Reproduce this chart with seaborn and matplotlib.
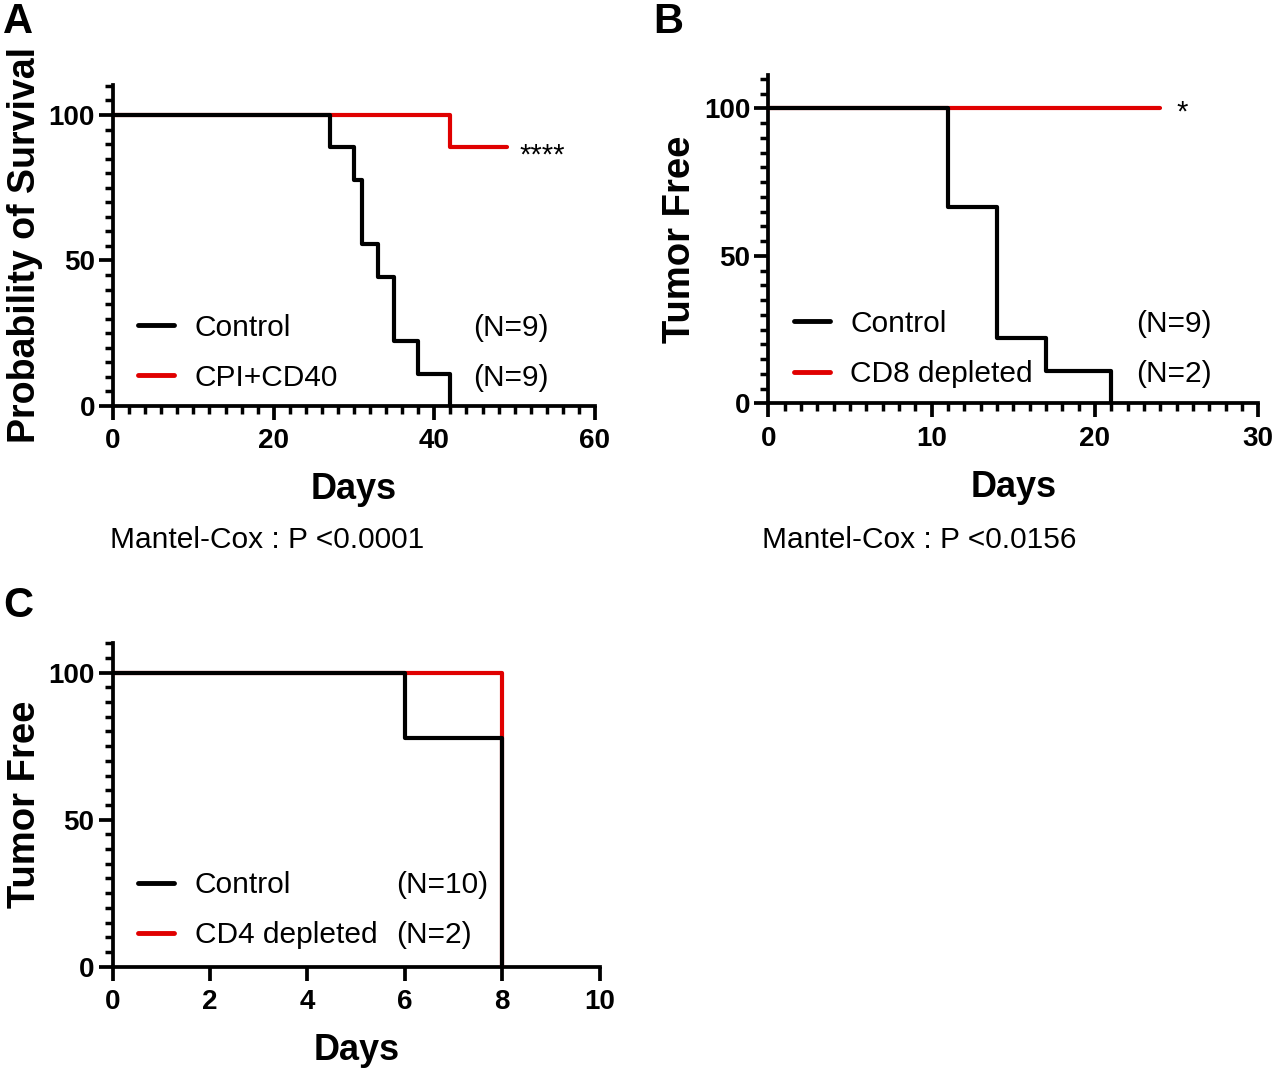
import matplotlib
matplotlib.use('Agg')
import matplotlib.pyplot as plt
import seaborn as sns
import pandas as pd
from matplotlib.ticker import MultipleLocator

# Panel A - survival
a_ctrl_days = [0, 27, 30, 31, 33, 35, 38, 42]
a_ctrl_surv = [100, 88.9, 77.8, 55.6, 44.4, 22.2, 11.1, 0]
a_trt_days = [0, 42, 49]
a_trt_surv = [100, 88.9, 88.9]

# Panel B - tumor free, CD8 depletion
b_ctrl_days = [0, 11, 14, 17, 21]
b_ctrl_surv = [100, 66.7, 22.2, 11.1, 0]
b_trt_days = [0, 24]
b_trt_surv = [100, 100]

# Panel C - tumor free, CD4 depletion
c_ctrl_days = [0, 6, 8]
c_ctrl_surv = [100, 77.8, 0]
c_trt_days = [0, 8]
c_trt_surv = [100, 0]

RED = '#e00000'
BLACK = '#000000'
FONT = ['Liberation Sans', 'DejaVu Sans']

sns.set_style('ticks')
plt.rcParams['font.family'] = FONT
plt.rcParams.update({'text.color': 'black', 'axes.labelcolor': 'black',
                     'xtick.color': 'black', 'ytick.color': 'black',
                     'axes.edgecolor': 'black'})


def km_panel(ax, ctrl, trt, names, xmax, xmajor, xminor, ytop, ylabel, ylabel_size, leg_anchor):
    df_t = pd.DataFrame({'Days': trt[0], 'Pct': trt[1]})
    df_c = pd.DataFrame({'Days': ctrl[0], 'Pct': ctrl[1]})
    sns.lineplot(data=df_t, x='Days', y='Pct', ax=ax, color=RED, linewidth=3.0,
                 drawstyle='steps-post', sort=False, estimator=None, label=names[1], zorder=3)
    sns.lineplot(data=df_c, x='Days', y='Pct', ax=ax, color=BLACK, linewidth=3.0,
                 drawstyle='steps-post', sort=False, estimator=None, label=names[0], zorder=4)

    ax.set_xlim(0, xmax)
    ax.set_ylim(0, ytop)
    ax.xaxis.set_major_locator(MultipleLocator(xmajor))
    if xminor:
        ax.xaxis.set_minor_locator(MultipleLocator(xminor))
    ax.yaxis.set_major_locator(MultipleLocator(50))
    ax.yaxis.set_minor_locator(MultipleLocator(5))
    for s in ['top', 'right']:
        ax.spines[s].set_visible(False)
    for s in ['left', 'bottom']:
        ax.spines[s].set_linewidth(2.7)
        ax.spines[s].set_capstyle('projecting')
    ax.tick_params(which='major', length=10, width=2.7, labelsize=20, pad=3)
    ax.tick_params(which='minor', length=5.5, width=2.5)
    ax.tick_params(axis='x', which='major', pad=6)
    for lab in ax.get_xticklabels() + ax.get_yticklabels():
        lab.set_fontweight('bold')
    ax.set_xlabel('Days', fontsize=26, fontweight='bold', labelpad=13)
    ax.set_ylabel(ylabel, fontsize=ylabel_size, fontweight='bold', labelpad=4)

    h, l = ax.get_legend_handles_labels()
    order = [l.index(names[0]), l.index(names[1])]
    leg = ax.legend([h[i] for i in order], [l[i] for i in order], loc='upper left',
                    bbox_to_anchor=leg_anchor, frameon=False, fontsize=21.5,
                    handlelength=1.2, handletextpad=0.7, labelspacing=0.75,
                    borderpad=0, borderaxespad=0)
    for line in leg.get_lines():
        line.set_linewidth(3.5)
    return leg


def add_counts(fig, ax, leg, ns, n_x):
    # put the group sizes on the same rows as the legend entries
    fig.canvas.draw()
    for txt, n in zip(leg.get_texts(), ns):
        bb = txt.get_window_extent()
        yc = (bb.y0 + bb.y1) / 2
        _, y_data = ax.transData.inverted().transform((0, yc))
        ax.text(n_x, y_data, n, fontsize=21.5, va='center', ha='left')


fig = plt.figure(figsize=(12.76, 10.76), dpi=100)
axA = fig.add_axes([0.0886, 0.6227, 0.3777, 0.2983])
axB = fig.add_axes([0.6021, 0.6252, 0.3840, 0.3051])
axC = fig.add_axes([0.0883, 0.1016, 0.3817, 0.3011])

legA = km_panel(axA, (a_ctrl_days, a_ctrl_surv), (a_trt_days, a_trt_surv),
                ['Control', 'CPI+CD40'], 60, 20, 2, 110.3,
                'Probability of Survival', 27, (0.052, 0.288))
legB = km_panel(axB, (b_ctrl_days, b_ctrl_surv), (b_trt_days, b_trt_surv),
                ['Control', 'CD8 depleted'], 30, 10, 1, 111.3,
                'Tumor Free', 27.5, (0.052, 0.285))
legC = km_panel(axC, (c_ctrl_days, c_ctrl_surv), (c_trt_days, c_trt_surv),
                ['Control', 'CD4 depleted'], 10, 2, None, 110.2,
                'Tumor Free', 27.5, (0.052, 0.295))

add_counts(fig, axA, legA, ['(N=9)', '(N=9)'], 44.8)
add_counts(fig, axB, legB, ['(N=9)', '(N=2)'], 22.5)
add_counts(fig, axC, legC, ['(N=10)', '(N=2)'], 5.83)

# significance stars
axA.annotate('****', xy=(a_trt_days[-1], a_trt_surv[-1]), xytext=(9, -12),
             textcoords='offset points', fontsize=21, va='baseline', ha='left')
axB.annotate('*', xy=(b_trt_days[-1], b_trt_surv[-1]), xytext=(12, -9),
             textcoords='offset points', fontsize=21, va='baseline', ha='left')

fig.text(110 / 1276, 1 - 540 / 1076, 'Mantel-Cox : P <0.0001', fontsize=21.5, va='center', ha='left')
fig.text(762 / 1276, 1 - 540 / 1076, 'Mantel-Cox : P <0.0156', fontsize=21.5, va='center', ha='left')

fig.text(3 / 1276, 1 - 2 / 1076, 'A', fontsize=30, fontweight='bold', va='top', ha='left')
fig.text(653 / 1276, 1 - 2 / 1076, 'B', fontsize=30, fontweight='bold', va='top', ha='left')
fig.text(3 / 1276, 1 - 586 / 1076, 'C', fontsize=30, fontweight='bold', va='top', ha='left')

fig.savefig('out.png', dpi=100, facecolor='white')
